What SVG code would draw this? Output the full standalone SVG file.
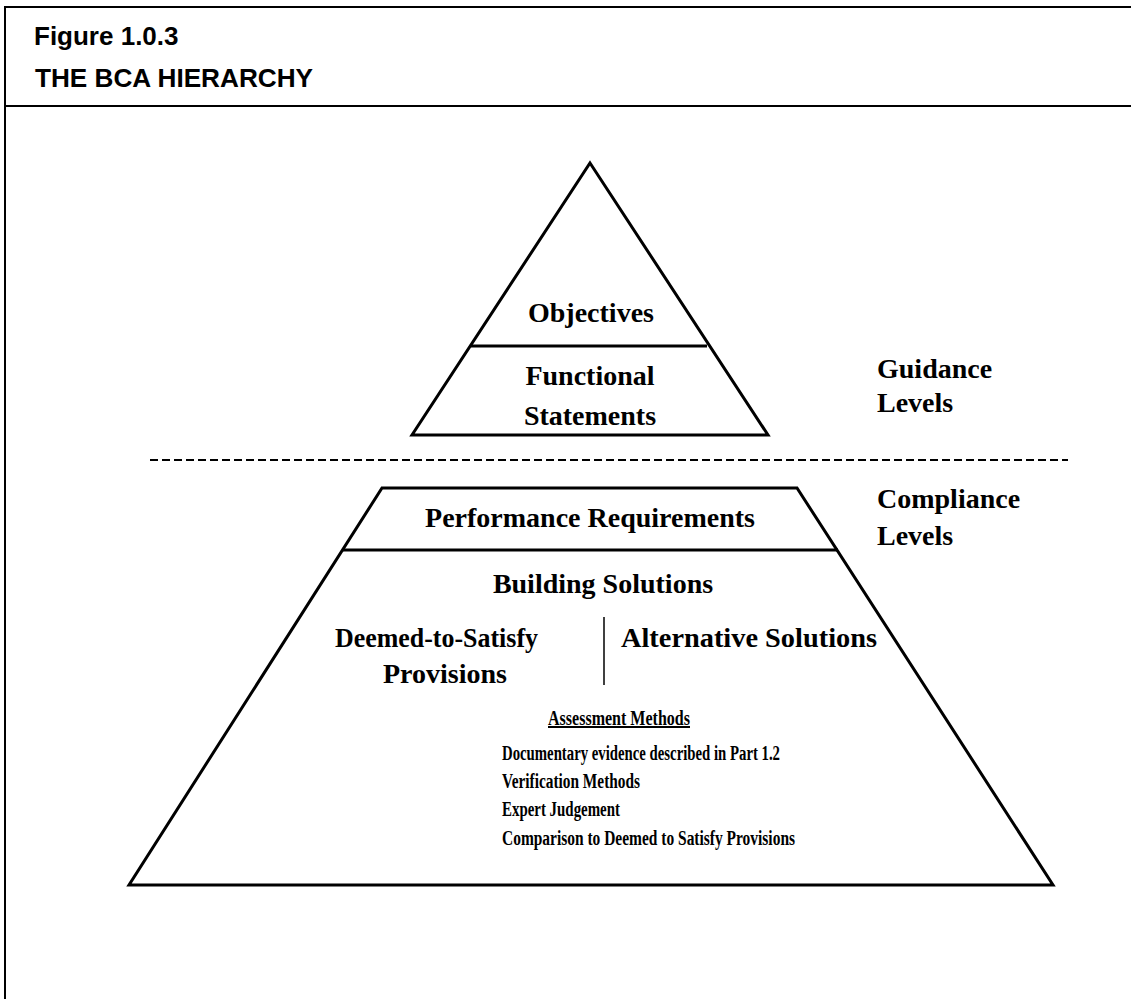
<svg xmlns="http://www.w3.org/2000/svg" width="1131" height="999" viewBox="0 0 1131 999">
<style>
.hdr{font-family:"Liberation Sans",Arial,sans-serif;font-weight:bold;font-size:26px;fill:#000}
.t{font-family:"Liberation Serif","Times New Roman",serif;font-weight:bold;font-size:28px;fill:#000}
.s{font-family:"Liberation Serif","Times New Roman",serif;font-weight:bold;font-size:20px;fill:#000}
.ln{stroke:#000;stroke-width:3;fill:none;stroke-linejoin:miter}
.bd{stroke:#000;stroke-width:2;fill:none}
</style>
<rect width="1131" height="999" fill="#fff"/>
<g id="frame">
<path class="bd" d="M5,999 V7 H1131"/>
<line class="bd" x1="5" y1="106" x2="1131" y2="106"/>
<text class="hdr" x="34" y="45">Figure 1.0.3</text>
<text class="hdr" x="35" y="87" textLength="278" lengthAdjust="spacingAndGlyphs">THE BCA HIERARCHY</text>
</g>
<g id="guidance-pyramid">
<polygon class="ln" points="590,163 768,435 412,435"/>
<line class="ln" x1="471" y1="346" x2="707" y2="346"/>
<text class="t" x="591" y="322" text-anchor="middle">Objectives</text>
<text class="t" x="590" y="385" text-anchor="middle">Functional</text>
<text class="t" x="590" y="425" text-anchor="middle">Statements</text>
</g>
<g id="guidance-label">
<text class="t" x="877" y="378">Guidance</text>
<text class="t" x="877" y="412">Levels</text>
</g>
<g id="connectors">
<line x1="150" y1="460" x2="1068" y2="460" stroke="#000" stroke-width="1.8" stroke-dasharray="8,4"/>
</g>
<g id="compliance-pyramid">
<polygon class="ln" points="382,488 797,488 1053,885 129,885"/>
<line class="ln" x1="343" y1="550" x2="838" y2="550"/>
<text class="t" x="590" y="527" text-anchor="middle">Performance Requirements</text>
<text class="t" x="603" y="593" text-anchor="middle">Building Solutions</text>
<text class="t" x="335" y="647" textLength="203" lengthAdjust="spacingAndGlyphs">Deemed-to-Satisfy</text>
<text class="t" x="445" y="683" text-anchor="middle">Provisions</text>
<line x1="604" y1="617" x2="604" y2="685" stroke="#000" stroke-width="1.5"/>
<text class="t" x="621" y="647" textLength="256" lengthAdjust="spacingAndGlyphs">Alternative Solutions</text>
<text class="s" x="548" y="725" textLength="142" lengthAdjust="spacingAndGlyphs" text-decoration="underline">Assessment Methods</text>
<text class="s" x="502" y="760" textLength="278" lengthAdjust="spacingAndGlyphs">Documentary evidence described in Part 1.2</text>
<text class="s" x="502" y="788" textLength="138" lengthAdjust="spacingAndGlyphs">Verification Methods</text>
<text class="s" x="502" y="816" textLength="118" lengthAdjust="spacingAndGlyphs">Expert Judgement</text>
<text class="s" x="502" y="845" textLength="293" lengthAdjust="spacingAndGlyphs">Comparison to Deemed to Satisfy Provisions</text>
</g>
<g id="compliance-label">
<text class="t" x="877" y="508">Compliance</text>
<text class="t" x="877" y="545">Levels</text>
</g>
</svg>
